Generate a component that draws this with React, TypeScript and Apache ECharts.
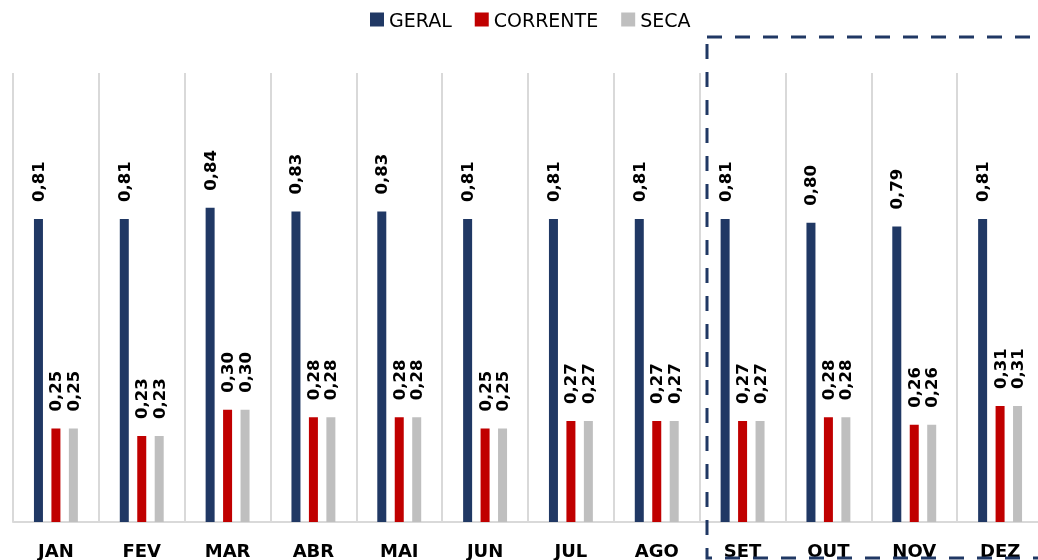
import React, { useEffect, useRef } from "react";
import * as echarts from "echarts";

const months = ["JAN", "FEV", "MAR", "ABR", "MAI", "JUN", "JUL", "AGO", "SET", "OUT", "NOV", "DEZ"];
const geral = [0.81, 0.81, 0.84, 0.83, 0.83, 0.81, 0.81, 0.81, 0.81, 0.8, 0.79, 0.81];
const corrente = [0.25, 0.23, 0.3, 0.28, 0.28, 0.25, 0.27, 0.27, 0.27, 0.28, 0.26, 0.31];
const seca = [0.25, 0.23, 0.3, 0.28, 0.28, 0.25, 0.27, 0.27, 0.27, 0.28, 0.26, 0.31];
const seriesNames = ["GERAL", "CORRENTE", "SECA"];
const colors = ["#203864", "#c00000", "#bfbfbf"];

const FONT = "'DejaVu Sans', sans-serif";

export default function App() {
  const ref = useRef<HTMLDivElement>(null);
  useEffect(() => {
    if (!ref.current) return;
    const chart = echarts.init(ref.current, null, { renderer: "svg" });
    const label = {
      show: true,
      position: "top" as const,
      rotate: 90,
      align: "left" as const,
      verticalAlign: "middle" as const,
      distance: 17,
      fontSize: 16.5,
      fontWeight: "bold" as const,
      color: "#000",
      fontFamily: FONT,
      formatter: (p: any) => Number(p.value).toFixed(2).replace(".", ","),
    };
    const datas = [geral, corrente, seca];
    chart.setOption({
      animation: false,
      legend: {
        data: seriesNames,
        top: 5,
        left: 365,
        itemWidth: 14,
        itemHeight: 14,
        itemGap: 23,
        icon: "rect",
        textStyle: { fontSize: 19, color: "#000", fontFamily: FONT },
      },
      grid: {
        left: 13,
        width: 1030,
        top: 73,
        height: 449,
        containLabel: false,
        outerBoundsMode: "none",
      },
      xAxis: {
        type: "category",
        data: months,
        axisLine: { lineStyle: { color: "#d9d9d9", width: 2 } },
        axisTick: { show: false },
        splitLine: { show: true, lineStyle: { color: "#d9d9d9", width: 2 } },
        axisLabel: {
          margin: 19,
          fontSize: 18,
          fontWeight: "bold",
          color: "#000",
          fontFamily: FONT,
          interval: 0,
        },
      },
      yAxis: {
        type: "value",
        min: 0,
        max: 1.2,
        show: false,
        splitLine: { show: false },
      },
      series: seriesNames.map((name, i) => ({
        name,
        type: "bar",
        data: datas[i],
        barWidth: 9,
        barGap: "94%",
        itemStyle: { color: colors[i] },
        label,
      })),
      graphic: [
        {
          type: "rect",
          shape: { x: 707, y: 37, width: 400, height: 521 },
          style: { fill: "none", stroke: "#203864", lineWidth: 3, lineDash: [15, 13] },
          silent: true,
          z: 10,
        },
      ],
    });
    return () => chart.dispose();
  }, []);
  return (
    <div
      ref={ref}
      style={{ position: "fixed", left: 0, top: 0, width: 1038, height: 560 }}
    />
  );
}
